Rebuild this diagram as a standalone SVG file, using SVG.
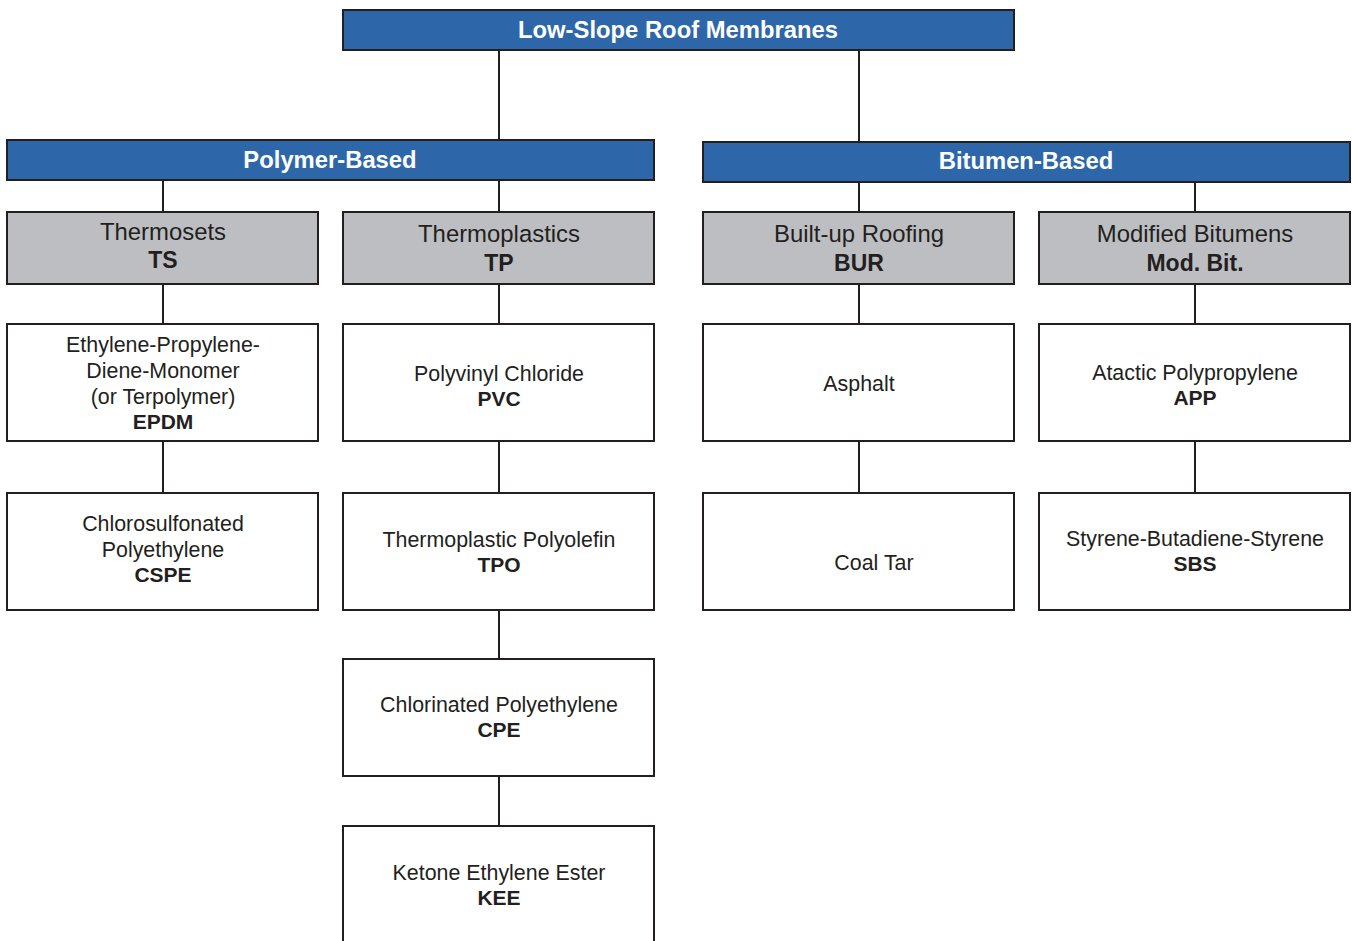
<svg xmlns="http://www.w3.org/2000/svg" width="1352" height="941" viewBox="0 0 1352 941">
<style>
.blue{fill:#2d67a9;stroke:#231f20;stroke-width:2}
.gray{fill:#bcbec1;stroke:#231f20;stroke-width:2}
.white{fill:#ffffff;stroke:#231f20;stroke-width:2}
.conn line{stroke:#231f20;stroke-width:2}
text{font-family:"Liberation Sans",Arial,Helvetica,sans-serif;text-anchor:middle;fill:#231f20}
.ht{font-size:23.8px;font-weight:bold;fill:#ffffff}
.gt{font-size:23.9px}
.gb{font-size:23px;font-weight:bold}
.wt{font-size:21.4px}
.wb{font-size:21px;font-weight:bold}
</style>
<rect width="1352" height="941" fill="#ffffff"/>
<g id="connectors" class="conn">
<line x1="499" y1="50" x2="499" y2="140"/>
<line x1="859" y1="50" x2="859" y2="142"/>
<line x1="163" y1="180" x2="163" y2="212"/>
<line x1="499" y1="180" x2="499" y2="212"/>
<line x1="859" y1="182" x2="859" y2="212"/>
<line x1="1195" y1="182" x2="1195" y2="212"/>
<line x1="163" y1="284" x2="163" y2="324"/>
<line x1="499" y1="284" x2="499" y2="324"/>
<line x1="859" y1="284" x2="859" y2="324"/>
<line x1="1195" y1="284" x2="1195" y2="324"/>
<line x1="163" y1="441" x2="163" y2="493"/>
<line x1="499" y1="441" x2="499" y2="493"/>
<line x1="859" y1="441" x2="859" y2="493"/>
<line x1="1195" y1="441" x2="1195" y2="493"/>
<line x1="499" y1="610" x2="499" y2="659"/>
<line x1="499" y1="776" x2="499" y2="826"/>
</g>
<g id="root">
<rect class="blue" x="343" y="10" width="671" height="40"/>
<text class="ht" x="678" y="38">Low-Slope Roof Membranes</text>
</g>
<g id="polymer">
<rect class="blue" x="7" y="140" width="647" height="40"/>
<text class="ht" x="330" y="168">Polymer-Based</text>
</g>
<g id="bitumen">
<rect class="blue" x="703" y="142" width="647" height="40"/>
<text class="ht" x="1026" y="169">Bitumen-Based</text>
</g>
<g id="thermosets">
<rect class="gray" x="7" y="212" width="311" height="72"/>
<text class="gt" x="163" y="240">Thermosets</text>
<text class="gb" x="163" y="268">TS</text>
</g>
<g id="thermoplastics">
<rect class="gray" x="343" y="212" width="311" height="72"/>
<text class="gt" x="499" y="242">Thermoplastics</text>
<text class="gb" x="499" y="271">TP</text>
</g>
<g id="bur">
<rect class="gray" x="703" y="212" width="311" height="72"/>
<text class="gt" x="859" y="242">Built-up Roofing</text>
<text class="gb" x="859" y="271">BUR</text>
</g>
<g id="modbit">
<rect class="gray" x="1039" y="212" width="311" height="72"/>
<text class="gt" x="1195" y="242">Modified Bitumens</text>
<text class="gb" x="1195" y="271">Mod. Bit.</text>
</g>
<g id="epdm">
<rect class="white" x="7" y="324" width="311" height="117"/>
<text class="wt" x="163" y="352">Ethylene-Propylene-</text>
<text class="wt" x="163" y="378">Diene-Monomer</text>
<text class="wt" x="163" y="404">(or Terpolymer)</text>
<text class="wb" x="163" y="429">EPDM</text>
</g>
<g id="cspe">
<rect class="white" x="7" y="493" width="311" height="117"/>
<text class="wt" x="163" y="531">Chlorosulfonated</text>
<text class="wt" x="163" y="557">Polyethylene</text>
<text class="wb" x="163" y="582">CSPE</text>
</g>
<g id="pvc">
<rect class="white" x="343" y="324" width="311" height="117"/>
<text class="wt" x="499" y="381">Polyvinyl Chloride</text>
<text class="wb" x="499" y="406">PVC</text>
</g>
<g id="tpo">
<rect class="white" x="343" y="493" width="311" height="117"/>
<text class="wt" x="499" y="547">Thermoplastic Polyolefin</text>
<text class="wb" x="499" y="572">TPO</text>
</g>
<g id="cpe">
<rect class="white" x="343" y="659" width="311" height="117"/>
<text class="wt" x="499" y="712">Chlorinated Polyethylene</text>
<text class="wb" x="499" y="737">CPE</text>
</g>
<g id="kee">
<rect class="white" x="343" y="826" width="311" height="130"/>
<text class="wt" x="499" y="880">Ketone Ethylene Ester</text>
<text class="wb" x="499" y="905">KEE</text>
</g>
<g id="asphalt">
<rect class="white" x="703" y="324" width="311" height="117"/>
<text class="wt" x="859" y="391">Asphalt</text>
</g>
<g id="coaltar">
<rect class="white" x="703" y="493" width="311" height="117"/>
<text class="wt" x="874" y="570">Coal Tar</text>
</g>
<g id="app">
<rect class="white" x="1039" y="324" width="311" height="117"/>
<text class="wt" x="1195" y="380">Atactic Polypropylene</text>
<text class="wb" x="1195" y="405">APP</text>
</g>
<g id="sbs">
<rect class="white" x="1039" y="493" width="311" height="117"/>
<text class="wt" x="1195" y="546">Styrene-Butadiene-Styrene</text>
<text class="wb" x="1195" y="571">SBS</text>
</g>
</svg>
